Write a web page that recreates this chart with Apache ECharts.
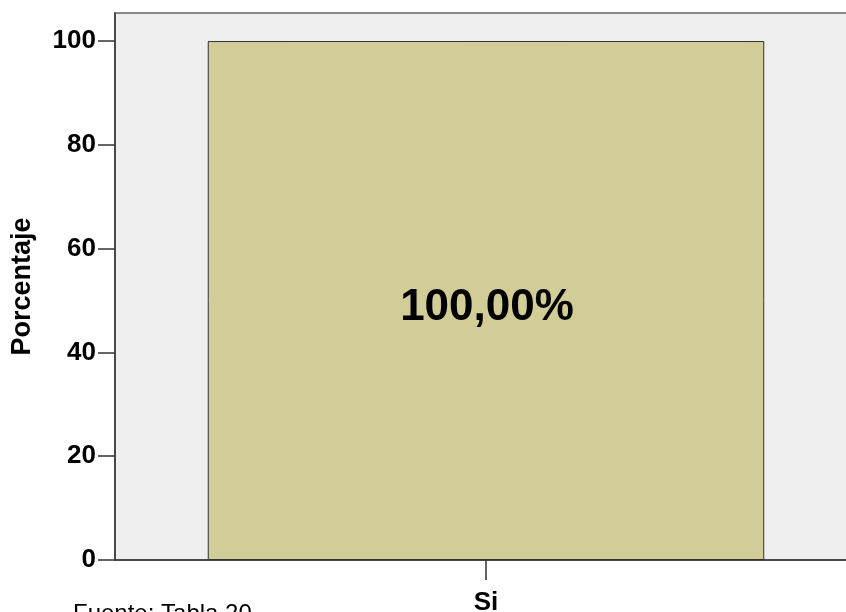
<!DOCTYPE html>
<html>
<head>
<meta charset="utf-8">
<script src="https://cdn.jsdelivr.net/npm/echarts@6/dist/echarts.min.js"></script>
<style>
html,body{margin:0;padding:0;background:#fff;}
#wrap{position:relative;width:846px;height:612px;overflow:hidden;}
#chart{position:absolute;left:0;top:0;width:860px;height:612px;}
</style>
</head>
<body>
<div id="wrap"><div id="chart"></div></div>
<script>
const categories = ['Si'];
const percentValues = [100];
const yTickValues = [0, 20, 40, 60, 80, 100];
const yAxisTitle = 'Porcentaje';
const sourceNote = 'Fuente: Tabla 20';

const FONT = '"Liberation Sans", Arial, sans-serif';
const chart = echarts.init(document.getElementById('chart'), null, {renderer: 'canvas'});
chart.setOption({
  animation: false,
  backgroundColor: '#ffffff',
  textStyle: {fontFamily: FONT},
  grid: {
    left: 115, top: 13, width: 742, height: 547,
    outerBoundsMode: 'none', containLabel: false,
    show: true, backgroundColor: '#efefef', borderColor: '#8a8a8a', borderWidth: 2
  },
  xAxis: {
    type: 'category',
    data: categories,
    axisLine: {show: true, lineStyle: {color: '#333333', width: 1.5}},
    axisTick: {show: true, alignWithLabel: true, length: 20, lineStyle: {color: '#333333', width: 1.5}},
    axisLabel: {color: '#000', fontFamily: FONT, fontWeight: 'bold', fontSize: 26, margin: 30}
  },
  yAxis: {
    type: 'value',
    min: 0, max: 105.4,
    name: yAxisTitle,
    nameLocation: 'middle',
    nameGap: 79,
    nameTextStyle: {color: '#000', fontFamily: FONT, fontWeight: 'bold', fontSize: 27},
    splitLine: {show: false},
    axisLine: {show: true, lineStyle: {color: '#333333', width: 1.5}},
    axisTick: {show: true, customValues: yTickValues, length: 17, lineStyle: {color: '#333333', width: 1.5}},
    axisLabel: {customValues: yTickValues, color: '#000', fontFamily: FONT, fontWeight: 'bold', fontSize: 26, margin: 19}
  },
  series: [{
    type: 'bar',
    data: percentValues,
    barWidth: '75%',
    itemStyle: {color: '#d2cd96', borderColor: '#333333', borderWidth: 1},
    label: {
      show: true, position: 'inside', offset: [1, 7],
      color: '#000', fontFamily: FONT, fontWeight: 'bold', fontSize: 44,
      formatter: p => p.value.toFixed(2).replace('.', ',') + '%'
    }
  }],
  graphic: [{
    type: 'text', left: 73, top: 602,
    style: {text: sourceNote, fill: '#000', font: '24px ' + FONT}
  }]
});
</script>
</body>
</html>
